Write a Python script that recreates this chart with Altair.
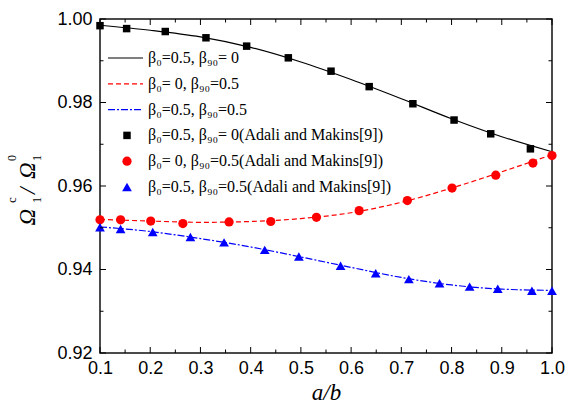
import altair as alt
import pandas as pd

# Smooth curves (present solution)
curve_x = [0.1, 0.2, 0.3, 0.4, 0.5, 0.6, 0.7, 0.8, 0.9, 1.0]
curve_b0 = [0.9985, 0.9973, 0.9957, 0.9932, 0.9897, 0.9855, 0.9809, 0.9761, 0.9718, 0.9682]
curve_b90 = [0.9520, 0.9516, 0.9513, 0.9515, 0.9522, 0.9536, 0.9561, 0.9595, 0.9634, 0.9675]
curve_both = [0.9502, 0.9491, 0.9474, 0.9454, 0.9430, 0.9405, 0.9381, 0.9363, 0.9353, 0.9350]

# Reference points (Adali and Makins)
sq_x = [0.100, 0.153, 0.230, 0.311, 0.392, 0.475, 0.560, 0.636, 0.723, 0.805, 0.878, 0.957]
sq_y = [0.9984, 0.9977, 0.9970, 0.9955, 0.9935, 0.9907, 0.9875, 0.9838, 0.9797, 0.9758, 0.9725, 0.9689]
circ_x = [0.100, 0.141, 0.201, 0.265, 0.357, 0.440, 0.531, 0.616, 0.712, 0.801, 0.888, 0.962, 1.000]
circ_y = [0.9519, 0.9519, 0.9516, 0.9510, 0.9514, 0.9515, 0.9525, 0.9541, 0.9565, 0.9595, 0.9626, 0.9655, 0.9673]
tri_x = [0.100, 0.141, 0.205, 0.280, 0.347, 0.428, 0.496, 0.579, 0.649, 0.715, 0.776, 0.836, 0.892, 0.960, 1.000]
tri_y = [0.9501, 0.9497, 0.9490, 0.9478, 0.9465, 0.9447, 0.9431, 0.9409, 0.9391, 0.9377, 0.9367, 0.9359, 0.9354, 0.9349, 0.9349]

# Axis ticks
x_major = [0.1, 0.2, 0.3, 0.4, 0.5, 0.6, 0.7, 0.8, 0.9, 1.0]
x_minor = [0.15, 0.25, 0.35, 0.45, 0.55, 0.65, 0.75, 0.85, 0.95]
y_major = [0.92, 0.94, 0.96, 0.98, 1.00]
y_minor = [0.93, 0.95, 0.97, 0.99]

legend_labels = [
    "β₀=0.5, β₉₀= 0",
    "β₀= 0, β₉₀=0.5",
    "β₀=0.5, β₉₀=0.5",
    "β₀=0.5, β₉₀= 0(Adali and Makins[9])",
    "β₀= 0, β₉₀=0.5(Adali and Makins[9])",
    "β₀=0.5, β₉₀=0.5(Adali and Makins[9])",
]

W, H = 452, 334
XS = alt.Scale(domain=[0.1, 1.0], nice=False, zero=False)
YS = alt.Scale(domain=[0.92, 1.00], nice=False, zero=False)
SERIF = "Liberation Serif"
SANS = "Liberation Sans"

X_AX = alt.Axis(values=x_major, format=".1f", ticks=False, domain=False, grid=False,
                labelFont=SANS, labelFontSize=18, labelColor="black",
                labelPadding=6, labelFlush=False,
                titleFont=SERIF, titleFontStyle="italic", titleFontWeight="normal",
                titleFontSize=23, titleColor="black", titlePadding=4)
Y_AX = alt.Axis(values=y_major, format=".2f", ticks=False, domain=False, grid=False,
                labelFont=SANS, labelFontSize=18, labelColor="black",
                labelPadding=8, labelFlush=False)


def xenc(field):
    return alt.X(field, scale=XS, axis=X_AX, title="a/b")


def yenc(field):
    return alt.Y(field, scale=YS, axis=Y_AX, title=None)


curves = pd.DataFrame({"x": curve_x, "b0": curve_b0, "b90": curve_b90, "both": curve_both})


def curve(col, color, dash):
    kw = dict(color=color, strokeWidth=1.2, interpolate="monotone")
    if dash:
        kw["strokeDash"] = dash
    return alt.Chart(curves).mark_line(**kw).encode(x=xenc("x:Q"), y=yenc(f"{col}:Q"))


def points(xs, ys, shape, color, size):
    df = pd.DataFrame({"x": xs, "y": ys})
    return alt.Chart(df).mark_point(shape=shape, filled=True, color=color, size=size,
                                    opacity=1, strokeWidth=0).encode(x=xenc("x:Q"), y=yenc("y:Q"))


layers = [curve("b0", "black", None),
          curve("b90", "#ff0000", [5, 3]),
          curve("both", "#0000ff", [7, 2, 2, 2]),
          points(sq_x, sq_y, "square", "black", 56),
          points(circ_x, circ_y, "circle", "#ff0000", 85),
          points(tri_x, tri_y, "triangle-up", "#0000ff", 95)]


# Inward tick marks on all four sides
def xticks(vals, length):
    df = pd.DataFrame({"v": vals})
    bot = alt.Chart(df).mark_rule(color="black", strokeWidth=1).encode(
        x=xenc("v:Q"), y=alt.value(H), y2=alt.value(H - length))
    top = alt.Chart(df).mark_rule(color="black", strokeWidth=1).encode(
        x=xenc("v:Q"), y=alt.value(0), y2=alt.value(length))
    return [bot, top]


def yticks(vals, length):
    df = pd.DataFrame({"v": vals})
    left = alt.Chart(df).mark_rule(color="black", strokeWidth=1).encode(
        y=yenc("v:Q"), x=alt.value(0), x2=alt.value(length))
    right = alt.Chart(df).mark_rule(color="black", strokeWidth=1).encode(
        y=yenc("v:Q"), x=alt.value(W), x2=alt.value(W - length))
    return [left, right]


layers += xticks(x_major, 6) + xticks(x_minor, 3.5) + yticks(y_major, 6) + yticks(y_minor, 3.5)

# Legend drawn inside the plot area
row0, step = 39, 25.8
line_styles = [("black", None), ("#ff0000", [5, 3]), ("#0000ff", [7, 2, 2, 2])]
marker_styles = [("square", "black", 56), ("circle", "#ff0000", 85), ("triangle-up", "#0000ff", 95)]
for i, lab in enumerate(legend_labels):
    ry = row0 + step * i
    one = pd.DataFrame({"label": [lab]})
    if i < 3:
        color, dash = line_styles[i]
        kw = dict(color=color, strokeWidth=1.2)
        if dash:
            kw["strokeDash"] = dash
        layers.append(alt.Chart(one).mark_rule(**kw).encode(
            x=alt.value(8), x2=alt.value(43), y=alt.value(ry)))
    else:
        shape, color, size = marker_styles[i - 3]
        layers.append(alt.Chart(one).mark_point(shape=shape, filled=True, color=color, size=size,
                                                opacity=1, strokeWidth=0).encode(
            x=alt.value(27), y=alt.value(ry)))
    layers.append(alt.Chart(one).mark_text(font=SERIF, fontSize=16, color="black", align="left",
                                           baseline="alphabetic").encode(
        x=alt.value(48), y=alt.value(ry + 5), text="label:N"))

# Rotated y-axis title built from pieces so sub/superscripts stack
title_parts = [
    ("Ω", -65, 206.5, 23),
    ("1", -59, 184, 12),
    ("c", -84, 184, 13),
    ("/", -65, 175, 23),
    ("Ω", -65, 160, 23),
    ("1", -59, 142, 12),
    ("0", -84, 142, 12),
]
for txt, px, py, fs in title_parts:
    italic = txt in ("Ω", "/")
    one = pd.DataFrame({"t": [txt]})
    layers.append(alt.Chart(one).mark_text(font=SERIF, fontSize=fs, color="black", angle=270,
                                           align="left", baseline="alphabetic",
                                           fontStyle="italic" if italic else "normal").encode(
        x=alt.value(px), y=alt.value(py), text="t:N"))

chart = alt.layer(*layers).properties(
    width=W, height=H,
    background="white",
    autosize=alt.AutoSizeParams(type="none"),
    padding={"left": 100, "top": 19, "right": 13, "bottom": 57},
).configure_view(stroke="#111", strokeWidth=1.5)

chart.save("out.html", embed_options={"renderer": "svg", "actions": False})
